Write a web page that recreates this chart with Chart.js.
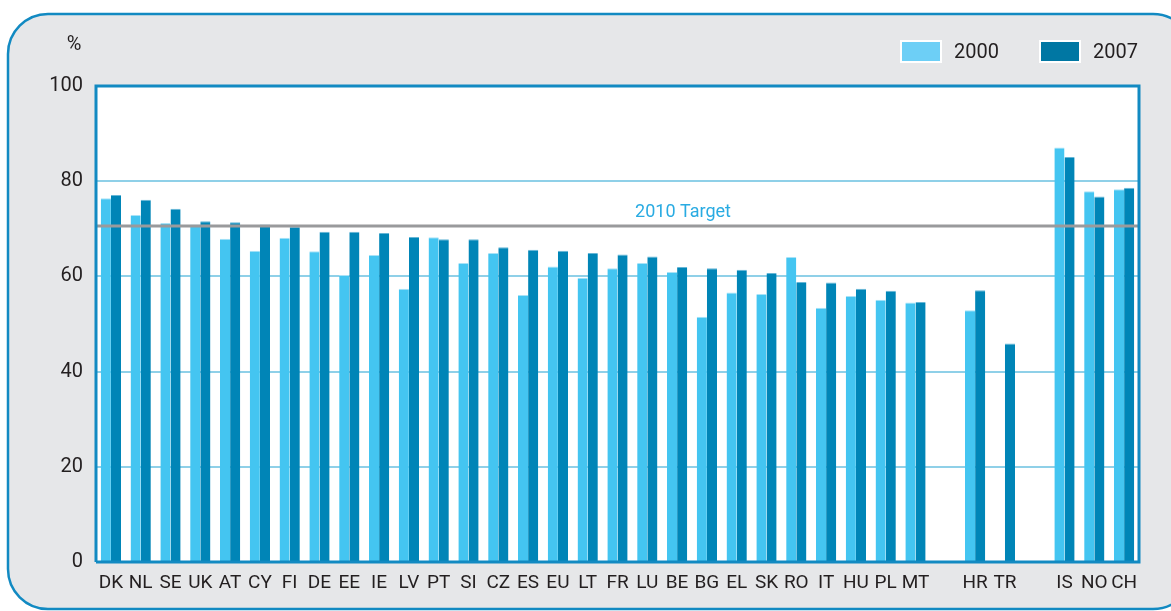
<!DOCTYPE html>
<html>
<head>
<meta charset="utf-8">
<script src="https://cdn.jsdelivr.net/npm/chart.js@4.4.1/dist/chart.umd.min.js"></script>
<style>
  html, body { margin: 0; padding: 0; background: #ffffff; }
  #wrap { position: relative; width: 1171px; height: 611px; }
</style>
</head>
<body>
<div id="wrap"><canvas id="chart" width="1171" height="611"></canvas></div>
<script>
// --- Data ---
const countries = ['DK', 'NL', 'SE', 'UK', 'AT', 'CY', 'FI', 'DE', 'EE', 'IE', 'LV', 'PT', 'SI', 'CZ', 'ES', 'EU',
  'LT', 'FR', 'LU', 'BE', 'BG', 'EL', 'SK', 'RO', 'IT', 'HU', 'PL', 'MT', '', 'HR', 'TR', '', 'IS', 'NO', 'CH'];
const values2000 = [76.4, 72.9, 71.2, 70.9, 67.9, 65.4, 68.1, 65.3, 60.3, 64.5, 57.4, 68.2, 62.8, 64.9, 56.1, 62.1,
  59.7, 61.7, 62.8, 60.9, 51.5, 56.6, 56.3, 64.1, 53.4, 55.9, 55.1, 54.5, null, 52.9, null, null, 87.1, 77.9, 78.3];
const values2007 = [77.1, 76.1, 74.2, 71.6, 71.4, 70.9, 70.4, 69.4, 69.4, 69.1, 68.3, 67.8, 67.8, 66.1, 65.6, 65.4,
  64.9, 64.6, 64.2, 62.0, 61.7, 61.4, 60.7, 58.8, 58.7, 57.4, 57.0, 54.6, null, 57.1, 45.9, null, 85.1, 76.8, 78.6];
const yTicks = [0, 20, 40, 60, 80, 100];
const targetValue = 70.6;
const targetLabel = '2010 Target';

const FONT = "Roboto, 'Liberation Sans', sans-serif";
const TEXT = '#231f20';
const BLUE = '#128ac2';

// frame, plot panel, target line, legend and unit label
const decor = {
  id: 'decor',
  beforeDraw(chart) {
    const ctx = chart.ctx;
    const a = chart.chartArea;
    ctx.save();
    ctx.fillStyle = '#ffffff';
    ctx.fillRect(0, 0, chart.width, chart.height);
    ctx.beginPath();
    ctx.roundRect(8, 14, 1185, 595, 40);
    ctx.fillStyle = '#e6e7e9';
    ctx.fill();
    ctx.lineWidth = 2.5;
    ctx.strokeStyle = BLUE;
    ctx.stroke();
    ctx.fillStyle = '#ffffff';
    ctx.fillRect(a.left, a.top, a.right - a.left, a.bottom - a.top);
    ctx.restore();
  },
  afterDatasetsDraw(chart) {
    const ctx = chart.ctx;
    const a = chart.chartArea;
    const y = chart.scales.y.getPixelForValue(targetValue);
    ctx.save();
    ctx.strokeStyle = '#999a9c';
    ctx.lineWidth = 3;
    ctx.beginPath();
    ctx.moveTo(a.left, y);
    ctx.lineTo(a.right, y);
    ctx.stroke();
    ctx.fillStyle = '#29abe2';
    ctx.font = '18px ' + FONT;
    ctx.textAlign = 'center';
    ctx.textBaseline = 'alphabetic';
    ctx.fillText(targetLabel, 683, y - 9);

    // plot border
    ctx.strokeStyle = BLUE;
    ctx.lineWidth = 3;
    ctx.beginPath();
    ctx.moveTo(a.left, a.bottom);
    ctx.lineTo(a.left, a.top);
    ctx.lineTo(a.right, a.top);
    ctx.lineTo(a.right, a.bottom);
    ctx.lineTo(a.left, a.bottom);
    ctx.stroke();

    // unit
    ctx.fillStyle = TEXT;
    ctx.font = '20px ' + FONT;
    ctx.textAlign = 'center';
    ctx.textBaseline = 'middle';
    ctx.fillText('%', 74, 45);

    // legend
    const boxes = [900, 1039];
    chart.data.datasets.forEach((ds, i) => {
      const x = boxes[i];
      ctx.fillStyle = '#ffffff';
      ctx.fillRect(x, 40, 42, 23);
      ctx.fillStyle = ds.legendColor;
      ctx.fillRect(x + 2, 42, 38, 19);
      ctx.fillStyle = TEXT;
      ctx.font = '20px ' + FONT;
      ctx.textAlign = 'left';
      ctx.fillText(ds.label, x + 54, 53);
    });
    ctx.restore();
  }
};

new Chart(document.getElementById('chart'), {
  type: 'bar',
  data: {
    labels: countries,
    datasets: [
      { label: '2000', data: values2000, backgroundColor: '#44c5f1', legendColor: '#6dcff6',
        borderColor: '#a8e2f7', borderWidth: { top: 1, right: 0, left: 0, bottom: 0 }, borderSkipped: 'bottom' },
      { label: '2007', data: values2007, backgroundColor: '#0085b7', legendColor: '#0077a3',
        borderColor: '#66b6d6', borderWidth: { top: 1, right: 0, left: 0, bottom: 0 }, borderSkipped: 'bottom' }
    ]
  },
  options: {
    responsive: false,
    animation: false,
    layout: { padding: { left: 0, top: 86, right: 32, bottom: 0 } },
    datasets: { bar: { categoryPercentage: 0.68, barPercentage: 1.0 } },
    plugins: { legend: { display: false }, tooltip: { enabled: false } },
    scales: {
      x: {
        grid: { display: false, drawTicks: false },
        border: { display: false },
        ticks: { color: TEXT, font: { family: FONT, size: 19 }, padding: 10, autoSkip: false, maxRotation: 0 },
        afterFit(s) { s.height = 49; }
      },
      y: {
        min: 0, max: 100,
        afterBuildTicks(s) { s.ticks = yTicks.map(v => ({ value: v })); },
        grid: { color: '#8fd0e8', lineWidth: 2, drawTicks: false },
        border: { display: false },
        ticks: { color: TEXT, font: { family: FONT, size: 20 }, padding: 13 },
        afterFit(s) { s.width = 96; }
      }
    }
  },
  plugins: [decor]
});
</script>
</body>
</html>
